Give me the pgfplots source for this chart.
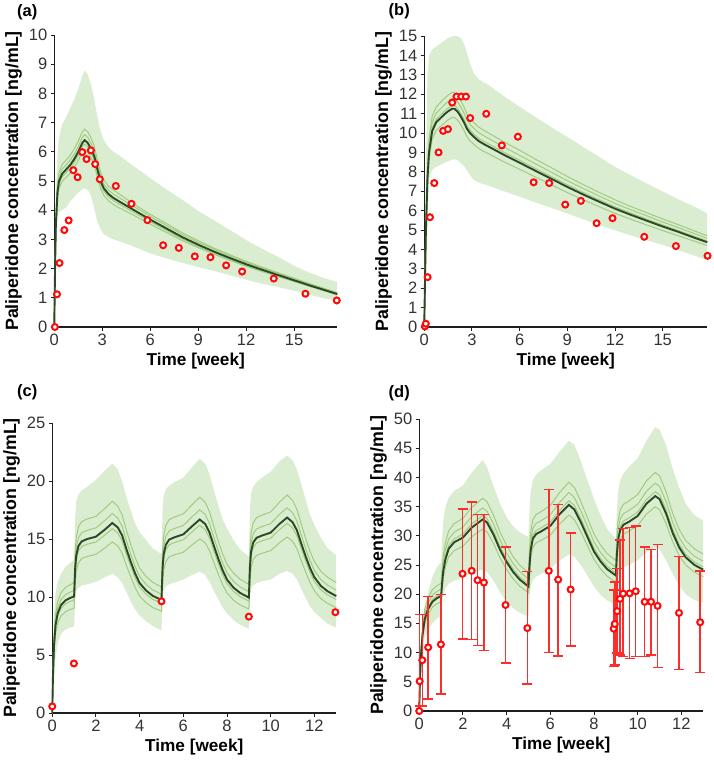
\documentclass[border=0pt]{standalone}
\usepackage{fontspec}
\setmainfont{Liberation Sans}
\usepackage{pgfplots}
\pgfplotsset{compat=1.18}
\usepackage{pgfplotstable}
\usepgfplotslibrary{fillbetween}

\definecolor{bandc}{RGB}{218,237,208}
\definecolor{thinc}{RGB}{160,204,128}
\definecolor{medc}{RGB}{44,72,38}
\definecolor{ptc}{RGB}{255,10,10}
\definecolor{errc}{RGB}{252,45,45}

\pgfplotstableread{
t lo hi med s1 s2 s3 s4
0 0 0 0 0 0 0 0
0.05 1.3 2.6 2.0 2.12 2.06 1.96 1.9
0.1 2.5 4.5 3.5 3.71 3.6 3.43 3.33
0.2 3.7 5.9 4.6 4.88 4.74 4.51 4.37
0.3 3.95 6.5 5.0 5.3 5.15 4.9 4.75
0.5 4.0 6.95 5.25 5.57 5.41 5.15 4.99
0.75 4.1 7.2 5.4 5.72 5.56 5.29 5.13
1.0 4.3 7.5 5.55 5.88 5.72 5.44 5.27
1.25 4.45 7.8 5.75 6.1 5.92 5.64 5.46
1.5 4.6 8.15 6.0 6.36 6.18 5.88 5.7
1.75 4.72 8.6 6.3 6.68 6.49 6.17 5.99
1.9 4.75 8.78 6.4 6.78 6.59 6.27 6.08
2.1 4.7 8.65 6.3 6.68 6.49 6.17 5.99
2.3 4.5 8.3 6.1 6.47 6.28 5.98 5.8
2.5 4.05 7.8 5.85 6.2 6.03 5.73 5.56
2.7 3.6 7.2 5.4 5.72 5.56 5.29 5.13
2.9 3.35 6.7 5.0 5.3 5.15 4.9 4.75
3.1 3.18 6.4 4.75 5.04 4.89 4.66 4.51
3.4 3.08 6.15 4.55 4.82 4.69 4.46 4.32
3.7 3.0 6.0 4.42 4.69 4.55 4.33 4.2
4 2.95 5.9 4.32 4.58 4.45 4.23 4.1
5 2.75 5.5 4.0 4.2 4.12 3.92 3.82
6 2.52 5.1 3.68 3.86 3.79 3.61 3.52
7 2.35 4.72 3.38 3.55 3.48 3.31 3.24
8 2.2 4.36 3.08 3.23 3.17 3.02 2.96
9 2.05 3.98 2.82 2.96 2.9 2.76 2.72
10 1.92 3.65 2.58 2.7 2.66 2.53 2.49
11 1.77 3.32 2.36 2.47 2.43 2.31 2.28
12 1.62 2.98 2.15 2.25 2.21 2.11 2.08
13 1.48 2.68 1.96 2.05 2.02 1.92 1.9
14 1.37 2.4 1.78 1.86 1.83 1.74 1.73
15 1.24 2.1 1.6 1.67 1.65 1.57 1.56
16 1.1 1.85 1.42 1.48 1.46 1.39 1.39
17 0.97 1.65 1.25 1.3 1.29 1.23 1.22
17.7 0.9 1.55 1.13 1.17 1.16 1.11 1.1
}\curveA

\pgfplotstableread{
t y
0.04 0
0.17 1.12
0.33 2.19
0.63 3.32
0.9 3.65
1.19 5.37
1.46 5.13
1.75 5.99
2.02 5.75
2.29 6.05
2.56 5.58
2.85 5.06
3.85 4.83
4.83 4.22
5.83 3.66
6.81 2.80
7.79 2.71
8.79 2.42
9.77 2.39
10.75 2.11
11.75 1.90
13.73 1.66
15.71 1.14
17.67 0.91
}\dataA

\pgfplotstableread{
t lo hi med s1 s2 s3 s4
0 0 0 0 0 0 0 0
0.05 1.2 4.0 2.5 2.69 2.61 2.54 2.4
0.1 2.5 8.0 4.8 5.16 5.02 4.87 4.61
0.2 5.5 12.8 7.6 8.17 7.94 7.71 7.3
0.3 7.6 14.0 9.0 9.68 9.41 9.14 8.64
0.5 8.1 14.3 10.1 10.86 10.55 10.25 9.7
0.75 8.25 14.45 10.55 11.34 11.02 10.71 10.13
1.0 8.35 14.6 10.75 11.56 11.23 10.91 10.32
1.25 8.45 14.75 10.95 11.77 11.44 11.11 10.51
1.5 8.55 14.9 11.12 11.95 11.62 11.29 10.68
1.75 8.62 14.98 11.25 12.09 11.76 11.42 10.8
1.9 8.65 15.0 11.25 12.09 11.76 11.42 10.8
2.1 8.6 14.98 11.1 11.93 11.6 11.27 10.66
2.3 8.45 14.9 10.85 11.66 11.34 11.01 10.42
2.5 8.3 14.6 10.55 11.34 11.02 10.71 10.13
2.7 8.05 14.1 10.2 10.97 10.66 10.35 9.79
2.9 7.8 13.55 9.98 10.73 10.43 10.13 9.58
3.1 7.6 13.1 9.82 10.56 10.26 9.97 9.43
3.4 7.45 12.8 9.6 10.32 10.03 9.74 9.22
3.7 7.37 12.62 9.45 10.16 9.88 9.59 9.07
4 7.3 12.5 9.32 10.02 9.74 9.46 8.95
5 7.0 11.9 8.88 9.55 9.28 9.01 8.52
6 6.72 11.35 8.47 9.11 8.85 8.6 8.13
7 6.42 10.82 8.05 8.65 8.41 8.17 7.73
8 6.14 10.3 7.64 8.21 7.98 7.75 7.33
9 5.85 9.8 7.22 7.76 7.54 7.33 6.93
10 5.55 9.28 6.83 7.34 7.14 6.93 6.56
11 5.26 8.77 6.46 6.94 6.75 6.56 6.2
12 4.98 8.26 6.1 6.56 6.37 6.19 5.86
13 4.72 7.82 5.78 6.21 6.04 5.87 5.55
14 4.47 7.4 5.48 5.89 5.73 5.56 5.26
15 4.23 6.98 5.18 5.57 5.41 5.26 4.97
16 3.95 6.58 4.9 5.27 5.12 4.97 4.7
17 3.68 6.2 4.6 4.95 4.81 4.67 4.42
17.8 3.46 5.86 4.37 4.7 4.57 4.44 4.2
}\curveB

\pgfplotstableread{
t y
0.04 0.03
0.1 0.17
0.21 2.57
0.36 5.66
0.63 7.42
0.9 9.0
1.19 10.11
1.49 10.2
1.76 11.57
2.03 11.88
2.33 11.88
2.62 11.88
2.89 10.77
3.9 10.99
4.88 9.36
5.89 9.81
6.88 7.46
7.86 7.42
8.87 6.31
9.85 6.5
10.84 5.35
11.84 5.61
13.84 4.65
15.83 4.17
17.82 3.67
}\dataB

\pgfplotstableread{
t lo hi med s1 s2 s3 s4
0 0 0 0 0 0 0 0
0.03 1.2 5.0 3.0 3.35 3.15 2.91 2.7
0.08 3.0 8.5 5.8 6.47 6.09 5.63 5.22
0.15 4.8 10.3 7.6 8.47 7.98 7.37 6.84
0.25 6.0 11.3 8.6 9.59 9.03 8.34 7.74
0.4 6.8 12.0 9.3 10.37 9.77 9.02 8.37
0.6 7.2 12.6 9.7 10.82 10.19 9.41 8.73
0.8 7.35 12.9 9.9 11.04 10.4 9.6 8.91
1.0 7.45 13.2 10.05 11.21 10.55 9.75 9.05
1.05 9.8 17.0 12.5 13.94 13.13 12.13 11.25
1.1 10.5 18.2 13.6 15.16 14.28 13.19 12.24
1.2 10.8 18.8 14.4 16.06 15.12 13.97 12.96
1.35 11.0 19.2 14.8 16.5 15.54 14.36 13.32
1.6 11.1 19.5 15.0 16.73 15.75 14.55 13.5
2.0 11.3 20.1 15.2 16.95 15.96 14.74 13.68
2.4 11.7 20.9 15.8 17.62 16.59 15.33 14.22
2.75 12.0 21.5 16.38 18.26 17.2 15.89 14.74
3.0 11.7 21.0 16.0 17.84 16.8 15.52 14.4
3.2 11.2 20.0 15.3 17.06 16.07 14.84 13.77
3.4 10.4 18.6 14.1 15.72 14.81 13.68 12.69
3.6 9.6 17.4 13.0 14.5 13.65 12.61 11.7
3.8 8.9 16.3 12.0 13.38 12.6 11.64 10.8
4.0 8.4 15.6 11.2 12.49 11.76 10.86 10.08
4.3 7.9 14.9 10.55 11.76 11.08 10.23 9.5
4.6 7.5 14.2 10.1 11.26 10.61 9.8 9.09
5.0 7.1 13.7 9.75 10.87 10.24 9.46 8.78
5.05 9.9 17.5 12.5 13.94 13.13 12.13 11.25
5.1 10.6 18.7 13.7 15.28 14.39 13.29 12.33
5.2 10.9 19.3 14.5 16.17 15.23 14.07 13.05
5.35 11.1 19.6 14.95 16.67 15.7 14.5 13.46
5.6 11.25 19.9 15.15 16.89 15.91 14.7 13.64
6.0 11.5 20.3 15.4 17.17 16.17 14.94 13.86
6.4 11.9 21.2 16.1 17.95 16.91 15.62 14.49
6.75 12.2 21.9 16.68 18.6 17.51 16.18 15.01
7.0 11.9 21.5 16.3 18.17 17.12 15.81 14.67
7.2 11.3 20.6 15.55 17.34 16.33 15.08 14.0
7.4 10.5 19.2 14.4 16.06 15.12 13.97 12.96
7.6 9.8 17.9 13.3 14.83 13.97 12.9 11.97
7.8 9.1 16.7 12.3 13.71 12.92 11.93 11.07
8.0 8.6 15.9 11.5 12.82 12.08 11.16 10.35
8.3 8.0 14.9 10.8 12.04 11.34 10.48 9.72
8.6 7.6 14.1 10.35 11.54 10.87 10.04 9.32
9.0 7.25 13.5 9.95 11.09 10.45 9.65 8.96
9.05 10.0 17.6 12.6 14.05 13.23 12.22 11.34
9.1 10.7 18.9 13.9 15.5 14.6 13.48 12.51
9.2 11.0 19.5 14.7 16.39 15.44 14.26 13.23
9.35 11.2 19.9 15.1 16.84 15.86 14.65 13.59
9.6 11.35 20.3 15.3 17.06 16.07 14.84 13.77
10.0 11.5 20.8 15.55 17.34 16.33 15.08 14.0
10.4 12.0 21.7 16.3 18.17 17.12 15.81 14.67
10.75 12.25 22.2 16.85 18.79 17.69 16.34 15.17
11.0 12.0 21.8 16.45 18.34 17.27 15.96 14.81
11.2 11.5 21.0 15.75 17.56 16.54 15.28 14.18
11.4 10.7 19.7 14.6 16.28 15.33 14.16 13.14
11.6 9.9 18.4 13.5 15.05 14.18 13.1 12.15
11.8 9.2 17.1 12.5 13.94 13.13 12.13 11.25
12.0 8.7 16.2 11.7 13.05 12.29 11.35 10.53
12.3 8.2 15.1 10.95 12.21 11.5 10.62 9.86
12.6 7.7 14.2 10.5 11.71 11.03 10.19 9.45
13.0 7.35 13.6 10.08 11.24 10.58 9.78 9.07
}\curveC

\pgfplotstableread{
t y
0.0 0.57
0.99 4.27
5.0 9.63
9.0 8.31
12.96 8.69
}\dataC

\pgfplotstableread{
t lo hi med s1 s2 s3 s4
0 0 0 0 0 0 0 0
0.03 3.5 6.0 5.0 5.55 5.3 5.1 4.75
0.08 7.0 10.5 9.5 10.55 10.07 9.69 9.03
0.15 10.0 14.0 13.0 14.43 13.78 13.26 12.35
0.25 12.5 17.5 15.7 17.43 16.64 16.01 14.92
0.4 14.0 20.2 17.4 19.31 18.44 17.75 16.53
0.6 15.0 23.0 18.7 20.76 19.82 19.07 17.77
0.8 15.8 24.6 19.3 21.42 20.46 19.69 18.34
1.0 16.3 25.5 19.7 21.87 20.88 20.09 18.72
1.05 18.5 29.5 22.0 24.42 23.32 22.44 20.9
1.1 19.8 32.5 24.0 26.64 25.44 24.48 22.8
1.2 21.0 35.0 26.0 28.86 27.56 26.52 24.7
1.35 21.8 36.5 27.8 30.86 29.47 28.36 26.41
1.6 22.3 37.7 28.9 32.08 30.63 29.48 27.46
2.0 22.8 38.6 29.7 32.97 31.48 30.29 28.22
2.4 23.6 40.8 31.4 34.85 33.28 32.03 29.83
2.9 24.2 43.0 32.8 36.41 34.77 33.46 31.16
3.1 23.8 41.8 32.3 35.85 34.24 32.95 30.69
3.4 22.3 38.5 30.2 33.52 32.01 30.8 28.69
3.7 20.3 35.5 27.6 30.64 29.26 28.15 26.22
4.0 18.8 33.2 25.5 28.31 27.03 26.01 24.23
4.3 17.6 31.6 23.8 26.42 25.23 24.28 22.61
4.6 16.8 30.6 22.5 24.98 23.85 22.95 21.38
5.0 16.2 29.8 21.3 23.64 22.58 21.73 20.24
5.05 19.5 34.5 25.0 27.75 26.5 25.5 23.75
5.1 21.2 37.5 27.5 30.53 29.15 28.05 26.13
5.2 22.4 39.5 29.5 32.75 31.27 30.09 28.03
5.35 23.0 40.5 30.3 33.63 32.12 30.91 28.79
5.6 23.5 41.3 30.8 34.19 32.65 31.42 29.26
6.0 24.3 42.3 31.7 35.19 33.6 32.33 30.12
6.4 25.7 44.3 33.6 37.3 35.62 34.27 31.92
6.85 26.8 46.3 35.3 39.18 37.42 36.01 33.54
7.1 26.4 45.6 34.5 38.3 36.57 35.19 32.78
7.4 25.0 42.8 32.3 35.85 34.24 32.95 30.69
7.7 23.2 39.5 29.8 33.08 31.59 30.4 28.31
8.0 21.3 36.3 27.3 30.3 28.94 27.85 25.94
8.3 19.9 33.5 25.6 28.42 27.14 26.11 24.32
8.6 18.9 31.2 24.3 26.97 25.76 24.79 23.09
9.0 18.2 29.5 23.2 25.75 24.59 23.66 22.04
9.05 21.5 34.5 27.0 29.97 28.62 27.54 25.65
9.1 23.0 37.5 29.3 32.52 31.06 29.89 27.84
9.2 24.0 39.5 31.0 34.41 32.86 31.62 29.45
9.35 24.6 40.7 31.9 35.41 33.81 32.54 30.31
9.6 25.0 41.8 32.4 35.96 34.34 33.05 30.78
10.0 25.8 43.3 33.4 37.07 35.4 34.07 31.73
10.4 27.2 46.3 35.5 39.41 37.63 36.21 33.73
10.8 28.0 48.6 36.8 40.85 39.01 37.54 34.96
11.0 27.7 48.2 36.3 40.29 38.48 37.03 34.49
11.3 25.8 45.5 33.8 37.52 35.83 34.48 32.11
11.6 23.5 41.5 30.5 33.86 32.33 31.11 28.98
11.9 21.5 38.2 28.0 31.08 29.68 28.56 26.6
12.2 20.0 35.5 26.3 29.19 27.88 26.83 24.99
12.6 19.0 33.5 25.0 27.75 26.5 25.5 23.75
13.0 18.5 32.6 24.2 26.86 25.65 24.68 22.99
}\curveD

\pgfplotstableread{
t y ep em
0.02 5.1 11.45 4.24
0.14 8.7 7.85 7.84
0.41 10.9 8.7 8.85
0.99 11.4 8.5 8.5
1.98 23.5 11.1 11.2
2.4 24.0 11.8 11.8
2.67 22.4 11.2 11.2
2.96 22.0 11.6 11.6
3.95 18.15 9.95 9.95
4.95 14.2 9.7 9.6
5.93 24.0 13.96 14.0
6.36 22.5 12.9 13.1
6.93 20.8 9.7 9.7
8.9 14.1 6.6 6.5
8.95 14.9 7.2 7.0
9.06 17.1 7.3 7.2
9.19 19.2 10.1 9.6
9.33 20.1 11.1 10.8
9.63 20.15 11.3 11.15
9.91 20.5 11.2 11.2
10.32 18.7 9.4 9.4
10.61 18.7 9.0 9.1
10.91 18.0 10.5 10.6
11.89 16.8 9.7 9.7
12.86 15.2 8.8 8.6
}\dataD

\pgfplotsset{
  panel/.style={
    scale only axis,
    axis lines=left,
    axis line style={-, line width=1.1pt, black!88},
    tick align=outside,
    major tick length=3.5pt,
    tick style={line width=0.9pt, black!88},
    xmin=0, ymin=0,
    clip=false,
    /pgf/number format/assume math mode=true,
    ticklabel style={font=\fontsize{16.5}{17}\selectfont, text=black!80},
    xlabel={Time [week]},
    ylabel={Paliperidone concentration [ng/mL]},
    xlabel style={font=\bfseries\fontsize{17.2}{18}\selectfont},
    ylabel style={font=\bfseries\fontsize{17.8}{18}\selectfont},
  },
  bandp/.style={fill=bandc, draw=none},
  thinl/.style={thinc, line width=1pt, no marks},
  medl/.style={medc, line width=1.9pt, no marks},
  pts/.style={only marks, mark=*, mark size=3pt, mark options={draw=ptc, fill=white, line width=2pt}},
}

\begin{document}
\begin{tikzpicture}[x=1pt,y=1pt]

% (a)
\begin{axis}[panel, at={(50pt,437pt)}, anchor=south west, width=283pt, height=292pt,
  xmax=17.7, ymax=10, xtick={0,3,6,9,12,15}, ytick={0,1,...,10}]
  \addplot[draw=none, name path=ahi] table[x=t,y=hi]{\curveA};
  \addplot[draw=none, name path=alo] table[x=t,y=lo]{\curveA};
  \addplot[bandp] fill between[of=ahi and alo];
  \addplot[thinl] table[x=t,y=s1]{\curveA};
  \addplot[thinl] table[x=t,y=s2]{\curveA};
  \addplot[thinl] table[x=t,y=s3]{\curveA};
  \addplot[thinl] table[x=t,y=s4]{\curveA};
  \addplot[medl] table[x=t,y=med]{\curveA};
  \addplot[pts] table[x=t,y=y]{\dataA};
\end{axis}

% (b)
\begin{axis}[panel, at={(420pt,437pt)}, anchor=south west, width=283pt, height=291pt,
  xmax=17.8, ymax=15, xtick={0,3,6,9,12,15}, ytick={0,1,...,15}]
  \addplot[draw=none, name path=bhi] table[x=t,y=hi]{\curveB};
  \addplot[draw=none, name path=blo] table[x=t,y=lo]{\curveB};
  \addplot[bandp] fill between[of=bhi and blo];
  \addplot[thinl] table[x=t,y=s1]{\curveB};
  \addplot[thinl] table[x=t,y=s2]{\curveB};
  \addplot[thinl] table[x=t,y=s3]{\curveB};
  \addplot[thinl] table[x=t,y=s4]{\curveB};
  \addplot[medl] table[x=t,y=med]{\curveB};
  \addplot[pts] table[x=t,y=y]{\dataB};
\end{axis}

% (c)
\begin{axis}[panel, at={(48pt,51pt)}, anchor=south west, width=284pt, height=290pt,
  xmax=13, ymax=25, xtick={0,2,...,12}, ytick={0,5,...,25}]
  \addplot[draw=none, name path=chi] table[x=t,y=hi]{\curveC};
  \addplot[draw=none, name path=clo] table[x=t,y=lo]{\curveC};
  \addplot[bandp] fill between[of=chi and clo];
  \addplot[thinl] table[x=t,y=s1]{\curveC};
  \addplot[thinl] table[x=t,y=s2]{\curveC};
  \addplot[thinl] table[x=t,y=s3]{\curveC};
  \addplot[thinl] table[x=t,y=s4]{\curveC};
  \addplot[medl] table[x=t,y=med]{\curveC};
  \addplot[pts] table[x=t,y=y]{\dataC};
\end{axis}

% (d)
\begin{axis}[panel, at={(415pt,53pt)}, anchor=south west, width=284pt, height=292pt,
  xmax=13, ymax=50, xtick={0,2,...,12}, ytick={0,5,...,50}]
  \addplot[draw=none, name path=dhi] table[x=t,y=hi]{\curveD};
  \addplot[draw=none, name path=dlo] table[x=t,y=lo]{\curveD};
  \addplot[bandp] fill between[of=dhi and dlo];
  \addplot[thinl] table[x=t,y=s1]{\curveD};
  \addplot[thinl] table[x=t,y=s2]{\curveD};
  \addplot[thinl] table[x=t,y=s3]{\curveD};
  \addplot[thinl] table[x=t,y=s4]{\curveD};
  \addplot[medl] table[x=t,y=med]{\curveD};
  \addplot[color=errc, pts,
    error bars/.cd, y dir=both, y explicit,
    error bar style={color=errc, line width=1.5pt},
    error mark options={rotate=90, color=errc, line width=1.4pt, mark size=5pt}]
    table[x=t, y=y, y error plus=ep, y error minus=em]{\dataD};
  \addplot[pts] coordinates {(0.0,0.0)};
\end{axis}

\node[font=\bfseries\fontsize{16.5}{17}\selectfont] at (23,752) {(a)};
\node[font=\bfseries\fontsize{16.5}{17}\selectfont] at (395,753) {(b)};
\node[font=\bfseries\fontsize{16.5}{17}\selectfont] at (23,372) {(c)};
\node[font=\bfseries\fontsize{16.5}{17}\selectfont] at (395,371) {(d)};
\path (0,0) rectangle (709,764);
\end{tikzpicture}
\end{document}
